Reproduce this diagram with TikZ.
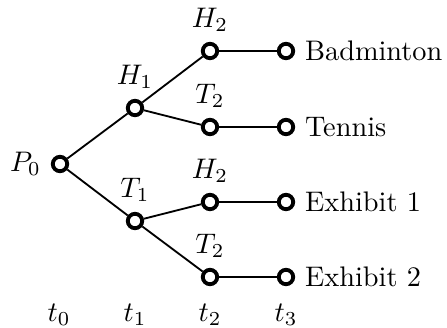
\documentclass[tikz,border=0pt]{standalone}
\begin{document}
\begin{tikzpicture}[x=0.3533pt,y=-0.3533pt,
  pt/.style={circle,draw,line width=1.35pt,fill=white,inner sep=0pt,minimum size=5.1pt},
  edge/.style={line width=0.65pt},
  lbl/.style={label distance=-2.1pt}]
\useasboundingbox (0,0) rectangle (447,328);
\node[pt,lbl,label=left:$P_0$] (p0) at (60,164) {};
\node[pt,lbl,label=above:$H_1$] (h1) at (135,108) {};
\node[pt,lbl,label=above:$T_1$] (t1) at (135,221) {};
\node[pt,lbl,label=above:$H_2$] (hh) at (210,51) {};
\node[pt,lbl,label=above:$T_2$] (ht) at (210,127) {};
\node[pt,lbl,label=above:$H_2$] (th) at (210,202) {};
\node[pt,lbl,label=above:$T_2$] (tt) at (210,277) {};
\node[pt,label={[label distance=0pt]right:Badminton}] (l1) at (286,51) {};
\node[pt,label={[label distance=0pt]right:Tennis}] (l2) at (286,127) {};
\node[pt,label={[label distance=0pt]right:Exhibit 1}] (l3) at (286,202) {};
\node[pt,label={[label distance=0pt]right:Exhibit 2}] (l4) at (286,277) {};
\node (s0) at (59,315) {$t_0$};
\node (s1) at (135,315) {$t_1$};
\node (s2) at (210,315) {$t_2$};
\node (s3) at (286,315) {$t_3$};
\draw[edge] (p0) -- (h1);
\draw[edge] (p0) -- (t1);
\draw[edge] (h1) -- (hh);
\draw[edge] (h1) -- (ht);
\draw[edge] (t1) -- (th);
\draw[edge] (t1) -- (tt);
\draw[edge] (hh) -- (l1);
\draw[edge] (ht) -- (l2);
\draw[edge] (th) -- (l3);
\draw[edge] (tt) -- (l4);
\end{tikzpicture}
\end{document}
